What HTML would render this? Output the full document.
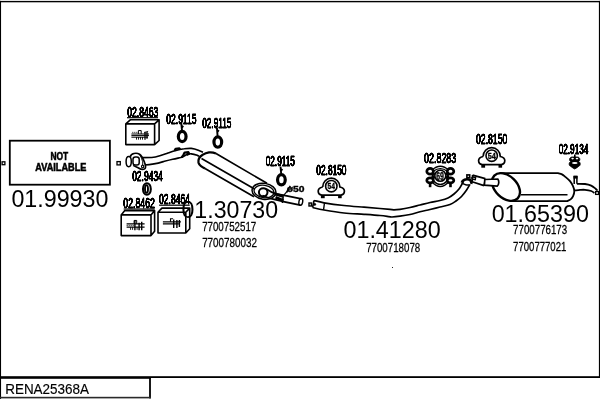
<!DOCTYPE html>
<html><head><meta charset="utf-8"><title>RENA25368A</title>
<style>
html,body{margin:0;padding:0;background:#fff;}
svg{display:block;will-change:transform;-webkit-font-smoothing:antialiased;font-family:"Liberation Sans",sans-serif;fill:#000;}
</style></head><body>
<svg width="600" height="400" viewBox="0 0 600 400">
<defs><filter id="bd" x="-5%" y="-10%" width="110%" height="120%"><feComponentTransfer><feFuncA type="linear" slope="2.2"/></feComponentTransfer></filter></defs>
<rect width="600" height="400" fill="#fff"/>
<rect x="0" y="0.9" width="600" height="1.4" fill="#000"/>
<rect x="0" y="0.9" width="1.05" height="398" fill="#000"/>
<rect x="598.9" y="0.9" width="1.1" height="377" fill="#000"/>
<rect x="0" y="376.2" width="600" height="1.8" fill="#000"/>
<rect x="0" y="378" width="150.9" height="0.8" fill="#000"/>
<rect x="149.1" y="378" width="1.8" height="20.4" fill="#000"/>
<rect x="0" y="396.8" width="150.9" height="1.6" fill="#2a2a2a"/>
<text vector-effect="non-scaling-stroke" transform="translate(5.17,394.00) scale(0.9770,1)" font-size="13.79" stroke="#000" stroke-width="0.15">RENA25368A</text>
<rect x="9.8" y="140.7" width="100.1" height="44.0" fill="none" stroke="#000" stroke-width="1.8"/>
<rect x="2.1" y="161.8" width="2.8" height="2.9" fill="none" stroke="#000" stroke-width="1.3"/>
<rect x="117.0" y="161.6" width="3.3" height="3.3" fill="none" stroke="#000" stroke-width="1.3"/>
<text vector-effect="non-scaling-stroke" transform="translate(50.42,160.00) scale(0.7991,1)" font-size="10.53" font-weight="bold" stroke="#000" stroke-width="0.5">NOT</text>
<text vector-effect="non-scaling-stroke" transform="translate(35.25,171.00) scale(0.8376,1)" font-size="10.97" font-weight="bold" stroke="#000" stroke-width="0.5">AVAILABLE</text>
<text vector-effect="non-scaling-stroke" transform="translate(11.41,207.00) scale(1.0118,1)" font-size="23.00">01.99930</text>
<text vector-effect="non-scaling-stroke" transform="translate(181.42,218.00) scale(1.0079,1)" font-size="23.00">01.30730</text>
<text vector-effect="non-scaling-stroke" transform="translate(202.13,231.00) scale(0.7180,1)" font-size="13.57" stroke="#000" stroke-width="0.25">7700752517</text>
<text vector-effect="non-scaling-stroke" transform="translate(202.13,247.00) scale(0.7204,1)" font-size="13.69" stroke="#000" stroke-width="0.25">7700780032</text>
<text vector-effect="non-scaling-stroke" transform="translate(343.41,238.00) scale(1.0157,1)" font-size="23.00">01.41280</text>
<text vector-effect="non-scaling-stroke" transform="translate(366.15,252.00) scale(0.7165,1)" font-size="13.57" stroke="#000" stroke-width="0.25">7700718078</text>
<text vector-effect="non-scaling-stroke" transform="translate(491.63,222.00) scale(1.0143,1)" font-size="23.00">01.65390</text>
<text vector-effect="non-scaling-stroke" transform="translate(513.07,234.00) scale(0.7123,1)" font-size="13.67" stroke="#000" stroke-width="0.25">7700776173</text>
<text vector-effect="non-scaling-stroke" transform="translate(513.08,251.00) scale(0.7206,1)" font-size="13.29" stroke="#000" stroke-width="0.25">7700777021</text>
<text vector-effect="non-scaling-stroke" transform="translate(127.15,117.00) scale(0.6192,1)" font-size="13.94" stroke="#000" stroke-width="0.3" filter="url(#bd)">02.8463</text>
<rect x="127" y="117.1" width="31" height="1.2" fill="#000"/>
<text vector-effect="non-scaling-stroke" transform="translate(166.32,124.00) scale(0.5686,1)" font-size="14.97" stroke="#000" stroke-width="0.3" filter="url(#bd)">02.9115</text>
<text vector-effect="non-scaling-stroke" transform="translate(202.15,128.00) scale(0.5422,1)" font-size="15.26" stroke="#000" stroke-width="0.3" filter="url(#bd)">02.9115</text>
<text vector-effect="non-scaling-stroke" transform="translate(132.15,181.00) scale(0.5619,1)" font-size="15.11" stroke="#000" stroke-width="0.3" filter="url(#bd)">02.9434</text>
<text vector-effect="non-scaling-stroke" transform="translate(123.37,208.00) scale(0.6081,1)" font-size="14.37" stroke="#000" stroke-width="0.3" filter="url(#bd)">02.8462</text>
<rect x="123.7" y="208.4" width="30.999999999999986" height="1.2" fill="#000"/>
<text vector-effect="non-scaling-stroke" transform="translate(159.00,204.00) scale(0.5831,1)" font-size="14.68" stroke="#000" stroke-width="0.3" filter="url(#bd)">02.8464</text>
<rect x="159.1" y="204.6" width="30.599999999999994" height="1.2" fill="#000"/>
<text vector-effect="non-scaling-stroke" transform="translate(265.70,166.00) scale(0.5446,1)" font-size="15.11" stroke="#000" stroke-width="0.3" filter="url(#bd)">02.9115</text>
<text vector-effect="non-scaling-stroke" transform="translate(316.31,175.00) scale(0.5527,1)" font-size="15.11" stroke="#000" stroke-width="0.3" filter="url(#bd)">02.8150</text>
<text vector-effect="non-scaling-stroke" transform="translate(424.00,163.00) scale(0.5757,1)" font-size="15.54" stroke="#000" stroke-width="0.3" filter="url(#bd)">02.8283</text>
<text vector-effect="non-scaling-stroke" transform="translate(476.02,144.00) scale(0.5676,1)" font-size="15.26" stroke="#000" stroke-width="0.3" filter="url(#bd)">02.8150</text>
<text vector-effect="non-scaling-stroke" transform="translate(558.70,154.00) scale(0.5389,1)" font-size="15.26" stroke="#000" stroke-width="0.3" filter="url(#bd)">02.9134</text>
<path d="M125.8,123.9H154.6V144.6H125.8Z M125.8,123.9L130.3,119.80000000000001H159.1V140.5L154.6,144.6 M154.6,123.9L159.1,119.80000000000001" fill="none" stroke="#000" stroke-width="1.6" stroke-linejoin="round"/>
<path d="M131.39999999999998,134.0H149.0 M131.39999999999998,135.6H149.0 M131.39999999999998,137.2H148.0" fill="none" stroke="#000" stroke-width="1.0"/>
<path d="M138.39999999999998,133.95V130.55H141.2V133.95" fill="none" stroke="#000" stroke-width="1.0"/>
<path d="M132.2,132.35H138.2" fill="none" stroke="#000" stroke-width="0.8" stroke-dasharray="1.2 0.8"/>
<path d="M136.5,137.05V139.65 M138.5,137.05V139.65 M140.5,137.05V139.65 M142.5,137.05V139.65" fill="none" stroke="#000" stroke-width="0.9"/>
<path d="M145.0,131.65V139.65 M147.0,131.65V138.85" fill="none" stroke="#000" stroke-width="1.3"/>
<path d="M144.2,132.65L148.2,131.25" fill="none" stroke="#000" stroke-width="0.8"/>
<path d="M121.2,214.9H151.0V235.6H121.2Z M121.2,214.9L124.8,210.6H154.6V231.29999999999998L151.0,235.6 M151.0,214.9L154.6,210.6" fill="none" stroke="#000" stroke-width="1.6" stroke-linejoin="round"/>
<path d="M126.6,223.95H144.6 M126.6,227.05H144.6" fill="none" stroke="#000" stroke-width="1.3"/>
<path d="M126.6,225.45H134.1" fill="none" stroke="#000" stroke-width="0.8" stroke-dasharray="1.2 0.8"/>
<path d="M134.1,223.95V220.45H136.7V223.95" fill="none" stroke="#000" stroke-width="1.0"/>
<path d="M134.9,220.65V230.25 M139.1,222.65V230.25 M141.7,221.85V230.25" fill="none" stroke="#000" stroke-width="1.4"/>
<path d="M130.6,227.25V229.85 M132.6,227.25V229.85 M137.1,227.25V229.85" fill="none" stroke="#000" stroke-width="0.9"/>
<path d="M158.0,212.3H185.8V233.0H158.0Z M158.0,212.3L161.9,208.10000000000002H189.70000000000002V228.8L185.8,233.0 M185.8,212.3L189.70000000000002,208.10000000000002" fill="none" stroke="#000" stroke-width="1.6" stroke-linejoin="round"/>
<path d="M162.9,221.85H180.9 M162.9,223.85H178.9" fill="none" stroke="#000" stroke-width="1.4"/>
<path d="M170.5,221.85V218.75H173.1" fill="none" stroke="#000" stroke-width="1.1"/>
<path d="M173.70000000000002,219.45000000000002V228.05 M176.9,220.05V228.05 M179.4,220.05V227.05" fill="none" stroke="#000" stroke-width="1.4"/>
<ellipse cx="182.2" cy="136.5" rx="3.85" ry="5.15" fill="none" stroke="#000" stroke-width="3.2"/>
<path d="M181.29999999999998,123.4 L182.0,130.5 M181.6,125.9 l1.8,1.2" fill="none" stroke="#000" stroke-width="1.9"/>
<ellipse cx="217.8" cy="142.1" rx="3.85" ry="5.15" fill="none" stroke="#000" stroke-width="3.2"/>
<path d="M216.9,127.69999999999999 L217.60000000000002,136.1 M217.20000000000002,130.2 l1.8,1.2" fill="none" stroke="#000" stroke-width="1.9"/>
<ellipse cx="281.4" cy="179.8" rx="3.85" ry="5.15" fill="none" stroke="#000" stroke-width="3.2"/>
<path d="M280.5,166.5 L281.2,173.8 M280.79999999999995,169.0 l1.8,1.2" fill="none" stroke="#000" stroke-width="1.9"/>
<ellipse cx="146.9" cy="189" rx="3.9" ry="5.8" fill="none" stroke="#000" stroke-width="2.1"/>
<ellipse cx="146.5" cy="189" rx="1.5" ry="3.9" fill="none" stroke="#000" stroke-width="1.9"/>
<path d="M141.7,157.6 C146,157.6 149,157.6 151.7,157.5 C155,157.2 157,156.6 159.8,155.75 C163,154.8 165,154 168,153 C171,152 173,151.3 175,150.7 C178,149.8 181,149.1 184.3,148.75 C187,148.4 189,148.3 191.3,148.4 C194,148.7 196,149.4 198.3,150.3 L203,152.25" fill="none" stroke="#000" stroke-width="1.7"/>
<path d="M144.7,165 C148,164.8 151,164.4 154,163.9 C157,163.4 160,162.6 163.3,161.6 C166,160.9 169,160.1 172.7,159.25 C176,158.6 178,158.1 180.8,157.5 C183,156.6 185,155.4 186.7,154.6 C188,154 190,153.7 191.3,153.8 C193,153.9 195,154.4 197.2,155.2 L199,156.3" fill="none" stroke="#000" stroke-width="1.7"/>
<path d="M174.6,150.6 L175.6,148.8 L179.4,148.4 L180.2,149.6" fill="none" stroke="#000" stroke-width="2.2" stroke-linejoin="round"/>
<path d="M181.8,157.4 L183.6,154.6 L184.6,152.6 L188.4,152.2 L189.2,153.8 L186.5,155" fill="none" stroke="#000" stroke-width="2.2" stroke-linejoin="round"/>
<ellipse cx="128.7" cy="161.6" rx="2.6" ry="5.2" fill="none" stroke="#000" stroke-width="1.5"/>
<path d="M130.3,156.8 C130.8,153.2 136.5,152.4 139.5,154.2 C142,156 143.5,159.5 144.6,162.5 C145.6,165 146.2,167.6 144.6,168.9 C143,169.9 140.5,169.2 138.5,168 C136.5,167 135,166.6 133.2,165.4" fill="none" stroke="#000" stroke-width="1.7"/>
<rect x="133" y="157" width="6.2" height="8" rx="2.3" fill="none" stroke="#000" stroke-width="1.5"/>
<ellipse cx="142.6" cy="166.4" rx="1.1" ry="1.3" fill="none" stroke="#000" stroke-width="1.1"/>
<path d="M139.5,154.2 C141.5,157.5 143.5,163 142.5,165" fill="none" stroke="#000" stroke-width="1.0"/>
<path d="M216,153.43 L267,183.31 M201.5,158.40 L254.5,188.93 M205,168.60 L254,196.73" fill="none" stroke="#000" stroke-width="1.7"/>
<path d="M216,153.5 C213,152.2 211,152.1 209,152.4 C206.5,152.8 204.5,153.6 203,154.6 C201,155.8 199.6,157.4 199,158.6 C198.3,160.1 198.2,161.4 198.5,162.6 C199,164.2 200,165.4 201,166.1 C202.5,167.2 203.7,167.9 205,168.6" fill="none" stroke="#000" stroke-width="2.3"/>
<ellipse cx="264" cy="191.3" rx="12" ry="8" fill="none" stroke="#000" stroke-width="1.5" transform="rotate(8 264 191.3)"/>
<ellipse cx="264" cy="191.5" rx="10" ry="6.2" fill="none" stroke="#000" stroke-width="1.3" transform="rotate(8 264 191.5)"/>
<ellipse cx="263.2" cy="192.3" rx="4.3" ry="4.1" fill="none" stroke="#000" stroke-width="2.0"/>
<path d="M266,188.7 C269,190.8 272,192.6 276.2,193.9 C284,195.5 292,197 301,198.7" fill="none" stroke="#000" stroke-width="1.7"/>
<path d="M262.5,195.4 C266,197 269,198.2 273.2,199.1 C282,201.4 291,203.4 300.3,205.1" fill="none" stroke="#000" stroke-width="1.7"/>
<ellipse cx="300.8" cy="201.9" rx="1.9" ry="3.4" fill="none" stroke="#000" stroke-width="1.4" transform="rotate(10 300.8 201.9)"/>
<path d="M274.8,193.8 L283,196.4" fill="none" stroke="#000" stroke-width="2.8"/>
<path d="M275.5,197.2 L283.4,200.6" fill="none" stroke="#000" stroke-width="2.8"/>
<path d="M283.2,196.2 L282.4,203" fill="none" stroke="#000" stroke-width="1.6"/>
<text vector-effect="non-scaling-stroke" transform="translate(286.74,192.00) scale(1.1633,1)" font-size="8.88" font-weight="bold" stroke="#000" stroke-width="0.4">ø50</text>
<path d="M290.3,185.9 L286.3,192.6" fill="none" stroke="#000" stroke-width="1.6"/>
<path d="M286.3,192.3 L282.8,196.2" fill="none" stroke="#000" stroke-width="1.2"/>
<rect x="309.0" y="203.0" width="2.4" height="3.0" fill="none" stroke="#000" stroke-width="1.4"/>
<path d="M314,200.5 C315.67,200.88 319.00,201.97 324,202.8 C329.00,203.63 337.33,204.77 344,205.5 C350.67,206.23 358.00,206.70 364,207.2 C370.00,207.70 375.67,208.13 380,208.5 C384.33,208.87 387.67,209.18 390,209.4 C392.33,209.62 392.33,209.82 394,209.8 C395.67,209.78 397.33,209.68 400,209.3 C402.67,208.92 406.67,208.22 410,207.5 C413.33,206.78 416.67,205.83 420,205 C423.33,204.17 426.67,203.25 430,202.5 C433.33,201.75 437.00,201.25 440,200.5 C443.00,199.75 445.67,199.08 448,198 C450.33,196.92 452.17,195.50 454,194 C455.83,192.50 457.67,190.67 459,189 C460.33,187.33 461.25,185.33 462,184 C462.75,182.67 463.25,181.50 463.5,181" fill="none" stroke="#000" stroke-width="1.7"/>
<path d="M312.6,207.5 C314.50,207.92 318.77,209.08 324,210 C329.23,210.92 337.33,212.28 344,213 C350.67,213.72 358.00,213.88 364,214.3 C370.00,214.72 375.83,215.12 380,215.5 C384.17,215.88 387.00,216.35 389,216.6 C391.00,216.85 390.17,217.07 392,217 C393.83,216.93 397.00,216.62 400,216.2 C403.00,215.78 406.67,215.23 410,214.5 C413.33,213.77 416.67,212.63 420,211.8 C423.33,210.97 426.67,210.30 430,209.5 C433.33,208.70 436.67,207.83 440,207 C443.33,206.17 447.33,205.50 450,204.5 C452.67,203.50 454.08,202.33 456,201 C457.92,199.67 459.73,198.33 461.5,196.5 C463.27,194.67 465.25,191.92 466.6,190 C467.95,188.08 469.10,185.83 469.6,185" fill="none" stroke="#000" stroke-width="1.7"/>
<path d="M314,200.5 L312.6,207.5" fill="none" stroke="#000" stroke-width="1.7"/>
<path d="M324.5,203 L323.5,210" fill="none" stroke="#000" stroke-width="1.4"/>
<ellipse cx="314.8" cy="204.4" rx="0.9" ry="0.9" fill="#000" stroke="#000" stroke-width="1.0"/>
<rect x="466.9" y="174.9" width="2.8" height="2.8" fill="none" stroke="#000" stroke-width="1.6"/>
<path d="M461.8,182.6 C462.5,179.8 466,178.8 469,179.6 C471,180.3 471.8,182 471.2,183.8" fill="none" stroke="#000" stroke-width="2.6"/>
<path d="M461.8,182.8 C463.5,184.6 467.5,185.6 470.4,184.6" fill="none" stroke="#000" stroke-width="1.3"/>
<path d="M472.6,175.1 L485.3,178.6 M472.1,181.7 L484,185.6 M472.6,175.1 L472.1,181.7 M485.3,178.6 L484.2,185.6" fill="none" stroke="#000" stroke-width="1.7"/>
<path d="M473,177 l2.6,0.6 l-0.3,2 l-2.4,-0.4" fill="none" stroke="#000" stroke-width="1.4"/>
<path d="M470.6,178.4 L472.4,177.6 M471,182.4 L472.2,181.9" fill="none" stroke="#000" stroke-width="1.3"/>
<ellipse cx="331.3" cy="186.2" rx="5.7" ry="5.7" fill="none" stroke="#000" stroke-width="1.6"/>
<text vector-effect="non-scaling-stroke" transform="translate(327.56,189.00) scale(0.6733,1)" font-size="9.91" font-weight="bold" stroke="#000" stroke-width="0.3">54</text>
<path d="M322.7,187.0 A8.6,8.8 0 0 1 339.90000000000003,187.0 C342.3,187.5 344.40000000000003,188.79999999999998 344.40000000000003,191.1 C344.40000000000003,193.39999999999998 342.8,194.89999999999998 340.8,195.1 H321.8 C319.8,194.89999999999998 318.2,193.39999999999998 318.2,191.1 C318.2,188.79999999999998 320.3,187.5 322.7,187.0" fill="none" stroke="#000" stroke-width="1.7"/>
<rect x="320.90000000000003" y="195.1" width="3.8" height="3.1" fill="#000"/>
<rect x="338.1" y="195.1" width="3.6" height="3.1" fill="#000"/>
<ellipse cx="491.7" cy="155.7" rx="5.7" ry="5.7" fill="none" stroke="#000" stroke-width="1.6"/>
<text vector-effect="non-scaling-stroke" transform="translate(487.67,159.00) scale(0.7329,1)" font-size="9.91" font-weight="bold" stroke="#000" stroke-width="0.3">54</text>
<path d="M483.09999999999997,156.5 A8.6,8.8 0 0 1 500.3,156.5 C502.7,157.0 504.8,158.29999999999998 504.8,160.6 C504.8,162.89999999999998 503.2,164.39999999999998 501.2,164.6 H482.2 C480.2,164.39999999999998 478.59999999999997,162.89999999999998 478.59999999999997,160.6 C478.59999999999997,158.29999999999998 480.7,157.0 483.09999999999997,156.5" fill="none" stroke="#000" stroke-width="1.7"/>
<rect x="481.3" y="164.6" width="3.8" height="3.1" fill="#000"/>
<rect x="498.5" y="164.6" width="3.6" height="3.1" fill="#000"/>
<ellipse cx="430.1" cy="171.29999999999998" rx="3.3" ry="2.9" fill="none" stroke="#000" stroke-width="2.7"/>
<ellipse cx="430.1" cy="180.39999999999998" rx="3.3" ry="2.5" fill="none" stroke="#000" stroke-width="2.7"/>
<path d="M432.7,172.5 L435.3,174.89999999999998 M432.7,179.1 L435.3,176.7 M431.8,173.89999999999998 L433.8,177.89999999999998 M431.8,177.7 L433.8,173.89999999999998" fill="none" stroke="#000" stroke-width="1.8"/>
<rect x="428.8" y="182.89999999999998" width="2.6" height="4.3" fill="#000"/>
<ellipse cx="450.5" cy="171.29999999999998" rx="3.3" ry="2.9" fill="none" stroke="#000" stroke-width="2.7"/>
<ellipse cx="450.5" cy="180.39999999999998" rx="3.3" ry="2.5" fill="none" stroke="#000" stroke-width="2.7"/>
<path d="M447.90000000000003,172.5 L445.3,174.89999999999998 M447.90000000000003,179.1 L445.3,176.7 M448.8,173.89999999999998 L446.8,177.89999999999998 M448.8,177.7 L446.8,173.89999999999998" fill="none" stroke="#000" stroke-width="1.8"/>
<rect x="449.2" y="182.89999999999998" width="2.6" height="4.3" fill="#000"/>
<path d="M431.8,170.2 Q440.3,162.2 448.8,170.2 M433.3,171.2 Q440.3,166.0 447.3,171.2" fill="none" stroke="#000" stroke-width="1.4"/>
<path d="M431.8,181.7 Q440.3,191.29999999999998 448.8,181.7 M433.3,180.7 Q440.3,188.1 447.3,180.7" fill="none" stroke="#000" stroke-width="1.4"/>
<ellipse cx="440.3" cy="175.7" rx="5.5" ry="5.5" fill="#fff" stroke="#000" stroke-width="1.6"/>
<text vector-effect="non-scaling-stroke" transform="translate(436.29,180.00) scale(0.6557,1)" font-size="10.51" font-weight="bold" stroke="#000" stroke-width="0.3">69</text>
<ellipse cx="506" cy="187" rx="16.3" ry="11" fill="none" stroke="#000" stroke-width="2.4" transform="rotate(44 506 187)"/>
<path d="M499.5,173.2 H558  C558.67,173.40 560.83,173.83 562,174.4 C563.17,174.97 563.67,175.47 565,176.6 C566.33,177.73 568.67,179.60 570,181.2 C571.33,182.80 572.28,184.53 573,186.2 C573.72,187.87 574.28,189.53 574.3,191.2 C574.32,192.87 573.72,194.83 573.1,196.2 C572.48,197.57 571.62,198.57 570.6,199.4 C569.58,200.23 567.60,200.90 567,201.2 H510.5" fill="none" stroke="#000" stroke-width="1.8"/>
<line x1="521" y1="194.7" x2="567.5" y2="194.7" stroke="#000" stroke-width="1.5"/>
<path d="M484.8,179.5 L497.8,179 C499.4,181 499,184.6 497.2,186.2 L484.4,185.2 Z" fill="#fff" stroke="#000" stroke-width="1.7"/>
<rect x="573.5" y="175.6" width="4" height="3" fill="#000"/>
<path d="M574.2,176 V184 M576.9,176 V183.8" fill="none" stroke="#000" stroke-width="1.5"/>
<path d="M576.9,183.8 C578.25,183.83 582.62,183.70 585,184 C587.38,184.30 589.43,184.82 591.2,185.6 C592.97,186.38 594.55,187.87 595.6,188.7 C596.65,189.53 597.18,190.28 597.5,190.6" fill="none" stroke="#000" stroke-width="1.8"/>
<path d="M575,190.4 C575.83,190.32 578.33,190.00 580,189.9 C581.67,189.80 583.13,189.62 585,189.8 C586.87,189.98 589.63,190.45 591.2,191 C592.77,191.55 593.87,192.75 594.4,193.1" fill="none" stroke="#000" stroke-width="1.8"/>
<rect x="595.6" y="191.6" width="3" height="2.8" fill="none" stroke="#000" stroke-width="1.3"/>
<path d="M574.8,154.5 V157.5" fill="none" stroke="#000" stroke-width="1.6"/>
<path d="M572,157 H577.6 C580.2,157.4 580.6,160.4 578.6,161.5 C580.8,162.4 580.8,165.6 578.6,166.4 C577.4,167.4 576,168.3 574.7,169 C573.4,168.3 572,167.4 570.8,166.4 C568.6,165.6 568.6,162.4 570.8,161.5 C568.8,160.4 569.2,157.4 572,157Z" fill="#000" stroke="#000" stroke-width="0.8"/>
<ellipse cx="572.6" cy="158.6" rx="1.3" ry="0.8" fill="#fff"/>
<ellipse cx="577" cy="158.6" rx="1.3" ry="0.8" fill="#fff"/>
<ellipse cx="574.8" cy="163" rx="2.8" ry="1.1" fill="#fff"/>
<rect x="392" y="267" width="1" height="1" fill="#222"/>
</svg>
</body></html>
